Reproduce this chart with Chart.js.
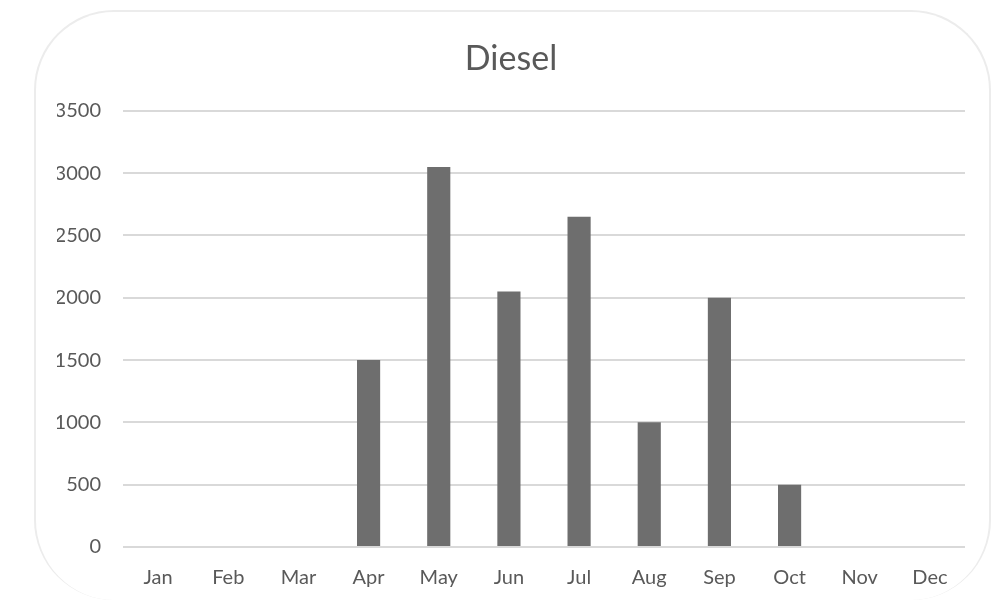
<!DOCTYPE html>
<html>
<head>
<meta charset="utf-8">
<script src="https://cdn.jsdelivr.net/npm/chart.js@4.4.1/dist/chart.umd.min.js"></script>
<style>
  html, body { margin: 0; padding: 0; background: #fff; }
  #wrap { position: relative; width: 992px; height: 603px; overflow: hidden; }
  #card {
    position: absolute; left: 34px; top: 10px; width: 957px; height: 590px;
    border: 2px solid #ececec; border-bottom: none; border-radius: 80px; box-sizing: border-box;
  }
  #c { position: absolute; left: 0; top: 0; }
</style>
</head>
<body>
<div id="wrap">
  <div id="card"></div>
  <canvas id="c" width="992" height="603"></canvas>
</div>
<script>
var meses = ["Jan","Feb","Mar","Apr","May","Jun","Jul","Aug","Sep","Oct","Nov","Dec"];
var diesel = [0, 0, 0, 1500, 3050, 2050, 2650, 1000, 2000, 500, 0, 0];
var ejeY = [0, 500, 1000, 1500, 2000, 2500, 3000, 3500];

var fuente = "Lato, 'Open Sans', sans-serif";
var gris = "#595959";

var ctx = document.getElementById('c').getContext('2d');
var chart = new Chart(ctx, {
    type: 'bar',
    data: {
        labels: meses,
        datasets: [{
            label: "Diesel",
            data: diesel,
            backgroundColor: "#6e6e6e",
            categoryPercentage: 1,
            barPercentage: 0.33
        }]
    },
    options: {
        responsive: false,
        animation: false,
        layout: { padding: { left: 57, right: 27, top: 0, bottom: 0 } },
        plugins: {
            legend: { display: false },
            tooltip: { enabled: false },
            title: {
                display: true,
                text: "Diesel",
                color: gris,
                font: { family: fuente, size: 34, weight: 'normal' },
                padding: { top: 39, bottom: 31 }
            }
        },
        scales: {
            x: {
                grid: { display: false },
                border: { display: false },
                ticks: {
                    color: gris,
                    font: { family: fuente, size: 20 },
                    padding: 11,
                    maxRotation: 0
                },
                afterFit: function(scale) { scale.height = 56; }
            },
            y: {
                min: ejeY[0],
                max: ejeY[ejeY.length - 1],
                afterBuildTicks: function(scale) {
                    scale.ticks = ejeY.map(function(v) { return { value: v }; });
                },
                grid: { color: "#d9d9d9", lineWidth: 2, drawTicks: false },
                border: { display: false },
                ticks: {
                    color: gris,
                    font: { family: fuente, size: 20 },
                    padding: 22,
                    callback: function(v) { return String(v); }
                },
                afterFit: function(scale) { scale.width = 66; }
            }
        }
    }
});
</script>
</body>
</html>
